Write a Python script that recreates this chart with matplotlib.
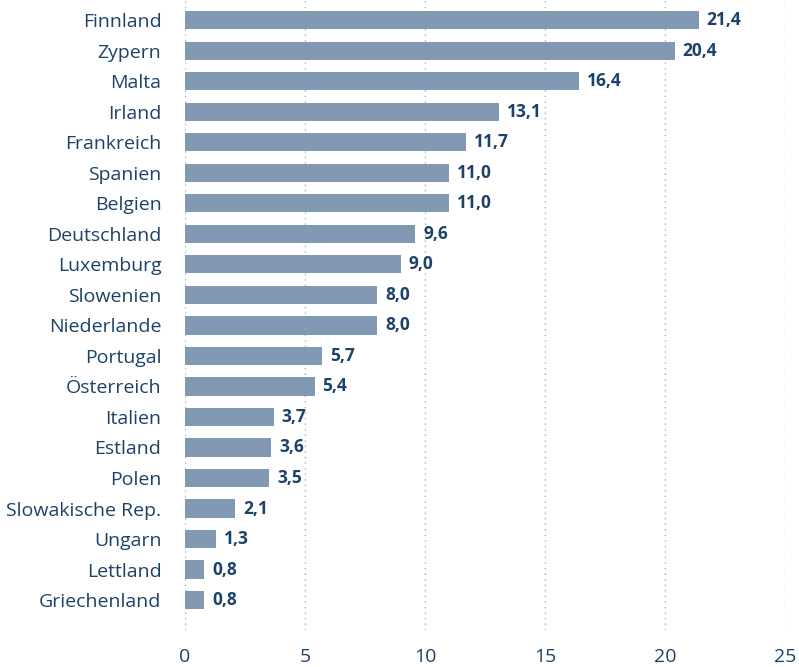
import matplotlib
matplotlib.use("Agg")
import matplotlib.pyplot as plt

plt.rcParams['font.family'] = ['Open Sans', 'DejaVu Sans']

countries = ["Finnland", "Zypern", "Malta", "Irland", "Frankreich", "Spanien",
             "Belgien", "Deutschland", "Luxemburg", "Slowenien", "Niederlande",
             "Portugal", "Österreich", "Italien", "Estland", "Polen",
             "Slowakische Rep.", "Ungarn", "Lettland", "Griechenland"]
values = [21.4, 20.4, 16.4, 13.1, 11.7, 11.0, 11.0, 9.6, 9.0, 8.0, 8.0,
          5.7, 5.4, 3.7, 3.6, 3.5, 2.1, 1.3, 0.8, 0.8]
xticks = [0, 5, 10, 15, 20, 25]

bar_col = "#8199b2"
txt_col = "#1d4268"

fig = plt.figure(figsize=(7.99, 6.67), dpi=100)
ax = fig.add_axes([185 / 799, 1 - 630 / 667, 600 / 799, 630 / 667])

pos = list(range(len(countries)))
ax.barh(pos, values, height=0.6, color=bar_col, zorder=2)
for p, v in zip(pos, values):
    ax.text(v + 0.33, p, f"{v:.1f}".replace(".", ","), va="center", ha="left",
            fontsize=12.5, fontweight="bold", color=txt_col)

ax.set_ylim(len(countries) - 0.02, -0.66)
ax.set_xlim(0, 25)
ax.set_yticks(pos)
ax.set_yticklabels(countries, fontsize=14, color=txt_col)
ax.set_xticks(xticks)
ax.set_xticklabels([str(t) for t in xticks], fontsize=14, color=txt_col)
ax.tick_params(length=0)
ax.tick_params(axis="x", pad=13)
ax.tick_params(axis="y", pad=17)
for t in xticks:
    ax.axvline(t, color="#a9b3bf", linestyle=(0, (1, 3)), linewidth=1, zorder=1)
for s in ax.spines.values():
    s.set_visible(False)

fig.savefig("out.png", dpi=100)
